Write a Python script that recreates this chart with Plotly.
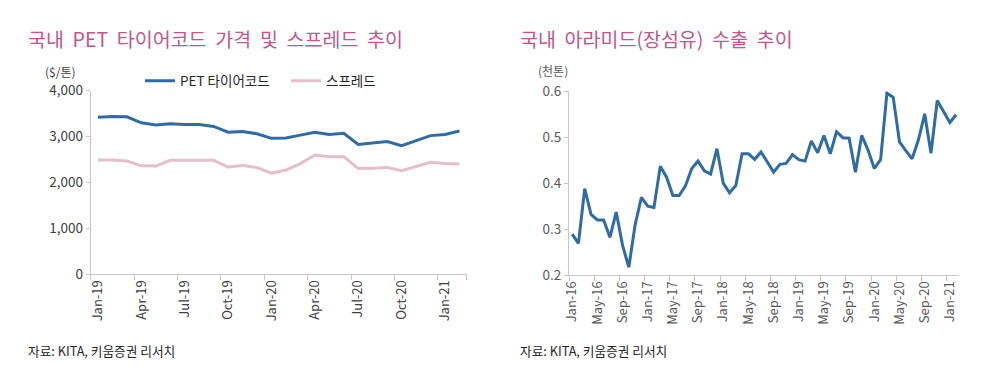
import plotly.graph_objects as go

# ---- Left chart data: 국내 PET 타이어코드 가격 및 스프레드 ----
pet_months = ["Jan-19", "Feb-19", "Mar-19", "Apr-19", "May-19", "Jun-19", "Jul-19", "Aug-19",
              "Sep-19", "Oct-19", "Nov-19", "Dec-19", "Jan-20", "Feb-20", "Mar-20", "Apr-20",
              "May-20", "Jun-20", "Jul-20", "Aug-20", "Sep-20", "Oct-20", "Nov-20", "Dec-20",
              "Jan-21", "Feb-21"]
pet_price = [3420, 3435, 3430, 3300, 3250, 3280, 3265, 3260, 3220, 3095, 3110, 3060, 2960,
             2970, 3030, 3095, 3045, 3070, 2825, 2850, 2890, 2800, 2905, 3020, 3045, 3120]
pet_spread = [2485, 2485, 2465, 2360, 2355, 2480, 2480, 2480, 2480, 2335, 2370, 2320, 2200,
              2270, 2410, 2595, 2560, 2560, 2300, 2310, 2325, 2255, 2350, 2440, 2410, 2400]
pet_tick_labels = ["Jan-19", "Apr-19", "Jul-19", "Oct-19", "Jan-20", "Apr-20", "Jul-20", "Oct-20", "Jan-21"]

# ---- Right chart data: 국내 아라미드(장섬유) 수출 ----
aramid_months = [f"{m}-{y}" for y in ["16", "17", "18", "19", "20"]
                 for m in ["Jan", "Feb", "Mar", "Apr", "May", "Jun", "Jul", "Aug", "Sep", "Oct", "Nov", "Dec"]] + ["Jan-21", "Feb-21"]
aramid_export = [0.289, 0.269, 0.388, 0.332, 0.320, 0.320, 0.282, 0.337, 0.265, 0.217,
                 0.309, 0.369, 0.350, 0.347, 0.437, 0.413, 0.373, 0.373, 0.394, 0.432,
                 0.448, 0.427, 0.420, 0.475, 0.400, 0.379, 0.395, 0.464, 0.464, 0.452,
                 0.468, 0.446, 0.424, 0.441, 0.443, 0.462, 0.451, 0.448, 0.492, 0.466,
                 0.504, 0.464, 0.512, 0.499, 0.498, 0.424, 0.504, 0.472, 0.432, 0.451,
                 0.596, 0.587, 0.490, 0.471, 0.453, 0.494, 0.551, 0.465, 0.580, 0.556,
                 0.532, 0.549]
aramid_tick_labels = ["Jan-16", "May-16", "Sep-16", "Jan-17", "May-17", "Sep-17", "Jan-18", "May-18",
                      "Sep-18", "Jan-19", "May-19", "Sep-19", "Jan-20", "May-20", "Sep-20", "Jan-21"]

FONT = "Noto Sans CJK KR"
BLUE = "#2F6BA5"
PINK = "#E6BDCB"
TITLE_PINK = "#C4558A"
AXIS_GRAY = "#C8C8C8"

W, H = 1000, 370
OFF = 8  # page body margin offset

def px_x(p):
    return (p - OFF) / W

def px_y(p):
    return 1 - (p - OFF) / H

pet_x = list(range(len(pet_months)))
ar_x = list(range(len(aramid_months)))

fig = go.Figure()
fig.add_trace(go.Scatter(x=pet_x, y=pet_price, mode="lines", name="PET 타이어코드",
                         line=dict(color=BLUE, width=3), xaxis="x", yaxis="y"))
fig.add_trace(go.Scatter(x=pet_x, y=pet_spread, mode="lines", name="스프레드",
                         line=dict(color=PINK, width=3), xaxis="x", yaxis="y"))
fig.add_trace(go.Scatter(x=ar_x, y=aramid_export, mode="lines", name="수출",
                         line=dict(color=BLUE, width=3), xaxis="x2", yaxis="y2",
                         showlegend=False))

pet_tickvals = [pet_months.index(t) for t in pet_tick_labels]
ar_tickvals = [aramid_months.index(t) for t in aramid_tick_labels]

common_x = dict(showgrid=False, zeroline=False, showline=True, linecolor=AXIS_GRAY, linewidth=1,
                tickangle=-90, ticks="", tickmode="array", automargin=False)
common_y = dict(showgrid=False, zeroline=False, showline=True, linecolor=AXIS_GRAY, linewidth=1,
                ticks="outside", ticklen=4, tickcolor=AXIS_GRAY, automargin=False)

fig.update_layout(
    width=W, height=H,
    margin=dict(l=0, r=0, t=0, b=0, pad=0, autoexpand=False),
    paper_bgcolor="white", plot_bgcolor="white",
    font=dict(family=FONT, size=12, color="#404040"),
    xaxis=dict(**common_x, domain=[px_x(90.7), px_x(466.7)], anchor="y",
               range=[-0.5, len(pet_months) - 0.5],
               tickvals=pet_tickvals, ticktext=pet_tick_labels,
               tickfont=dict(size=13, color="#404040"),
               minor=dict(tickmode="array", tickvals=[v - 0.5 for v in pet_tickvals] + [len(pet_months) - 0.5],
                          ticks="outside", ticklen=5, tickcolor=AXIS_GRAY)),
    yaxis=dict(**common_y, domain=[px_y(274), px_y(90.7)], anchor="x",
               range=[0, 4000], tickvals=[0, 1000, 2000, 3000, 4000], tickformat=",",
               tickfont=dict(size=13.5, color="#404040")),
    xaxis2=dict(**common_x, domain=[px_x(569), px_x(959.3)], anchor="y2",
                range=[-0.5, len(aramid_months) - 0.5],
                tickvals=ar_tickvals, ticktext=aramid_tick_labels,
                tickfont=dict(size=13, color="#595959"),
                minor=dict(tickmode="array", tickvals=[v - 0.5 for v in ar_tickvals],
                           ticks="outside", ticklen=5, tickcolor=AXIS_GRAY)),
    yaxis2=dict(**common_y, domain=[px_y(275), px_y(91.3)], anchor="x2",
                range=[0.2, 0.6], tickvals=[0.2, 0.3, 0.4, 0.5, 0.6], tickformat=".1f",
                tickfont=dict(size=13.5, color="#595959")),
    legend=dict(orientation="h", x=px_x(140), y=px_y(81), xanchor="left", yanchor="middle",
                font=dict(size=13.5, color="#262626"), bgcolor="rgba(0,0,0,0)",
                itemwidth=30, tracegroupgap=0, entrywidth=101, entrywidthmode="pixels"),
    showlegend=True,
)

NB = "\u00a0"
left_title = (NB * 2).join(["국내", "PET", "타이어코드", "가격", "및", "스프레드", "추이"])
right_title = (NB * 2).join(["국내", "아라미드(장섬유)", "수출", "추이"])

annotations = [
    dict(text=left_title, x=px_x(26), y=px_y(38), xanchor="left", yanchor="middle",
         font=dict(size=19.5, color=TITLE_PINK)),
    dict(text=right_title, x=px_x(518), y=px_y(38), xanchor="left", yanchor="middle",
         font=dict(size=19.5, color=TITLE_PINK)),
    dict(text="($/톤)", x=px_x(43), y=px_y(71), xanchor="left", yanchor="middle",
         font=dict(size=12, color="#404040")),
    dict(text="(천톤)", x=px_x(536), y=px_y(70.5), xanchor="left", yanchor="middle",
         font=dict(size=12, color="#595959")),
    dict(text="자료: KITA, 키움증권 리서치", x=px_x(26), y=px_y(350), xanchor="left", yanchor="middle",
         font=dict(size=12.7, color="#262626")),
    dict(text="자료: KITA, 키움증권 리서치", x=px_x(518), y=px_y(350), xanchor="left", yanchor="middle",
         font=dict(size=12.7, color="#262626")),
]
for a in annotations:
    a.update(xref="paper", yref="paper", showarrow=False)
fig.update_layout(annotations=annotations)

fig.write_html("out.html")
